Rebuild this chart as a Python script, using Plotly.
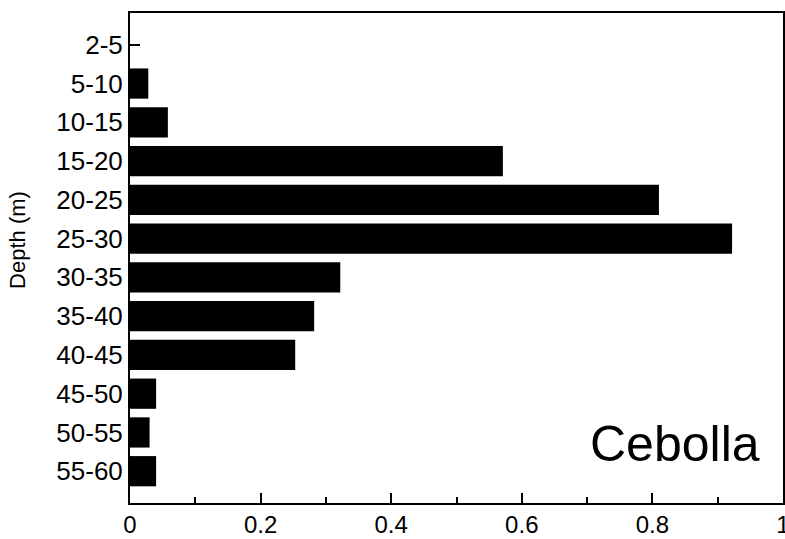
import plotly.graph_objects as go

depths = ["2-5", "5-10", "10-15", "15-20", "20-25", "25-30", "30-35",
          "35-40", "40-45", "45-50", "50-55", "55-60"]
values = [0.0, 0.028, 0.058, 0.571, 0.81, 0.922, 0.322, 0.282, 0.253, 0.04, 0.03, 0.04]

FONT = "Liberation Sans, Arial, sans-serif"

fig = go.Figure()
fig.add_trace(go.Bar(
    y=depths, x=values, orientation="h",
    marker=dict(color="black", line=dict(width=0)),
    width=0.78,
))

fig.update_layout(
    width=785, height=539,
    margin=dict(l=130, r=2, t=13, b=36),
    paper_bgcolor="white", plot_bgcolor="white",
    showlegend=False,
    font=dict(family=FONT, color="black"),
    xaxis=dict(
        range=[0, 1], tickvals=[0, 0.2, 0.4, 0.6, 0.8, 1],
        ticktext=["0", "0.2", "0.4", "0.6", "0.8", "1"],
        ticks="inside", ticklen=10, tickwidth=1.5, tickcolor="black",
        minor=dict(dtick=0.1, ticks="inside", ticklen=6, tickwidth=1.5, tickcolor="black", showgrid=False),
        showline=True, linecolor="black", linewidth=2, mirror=True,
        showgrid=False, zeroline=False,
        tickfont=dict(size=24, family=FONT, color="black"),
        ticklabeloverflow="allow",
        ticklabelstandoff=-1,
        automargin=False,
    ),
    yaxis=dict(
        categoryorder="array", categoryarray=depths,
        range=[11.82, -0.82],
        ticks="inside", ticklen=10, tickwidth=1.5, tickcolor="black",
        showline=True, linecolor="black", linewidth=2, mirror=True,
        showgrid=False, zeroline=False,
        tickfont=dict(size=26, family=FONT, color="black"),
        automargin=False,
    ),
    annotations=[
        dict(text="Depth (m)", xref="paper", yref="paper",
             x=-0.1715, y=0.537, xanchor="center", yanchor="middle",
             textangle=-90, showarrow=False,
             font=dict(size=22, family=FONT, color="black")),
        dict(text="Cebolla", xref="paper", yref="paper",
             x=0.835, y=0.12, xanchor="center", yanchor="middle",
             showarrow=False,
             font=dict(size=50, family=FONT, color="black")),
    ],
)

fig.write_html("out.html")
